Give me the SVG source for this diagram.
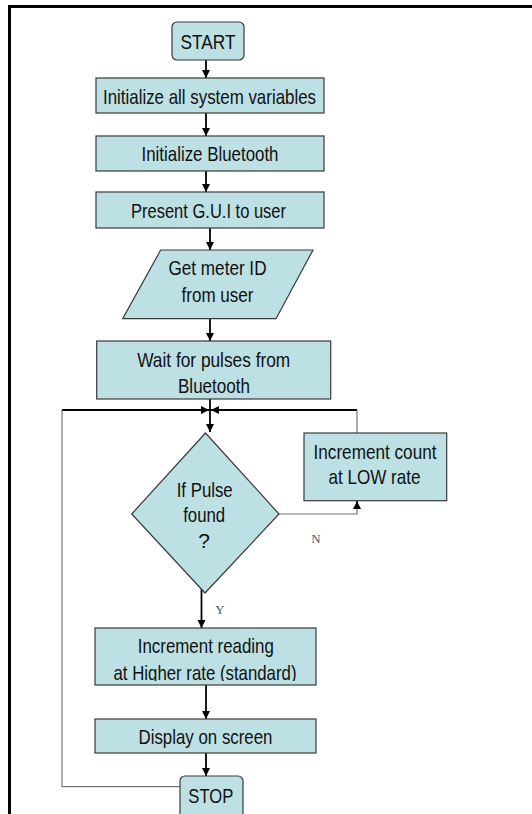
<svg xmlns="http://www.w3.org/2000/svg" width="532" height="814" viewBox="0 0 532 814">
<defs>
<style>
.n{fill:#bce0e3;stroke:#3a3a3a;stroke-width:1.2}
.t{font-family:"Liberation Sans",Arial,sans-serif;font-size:21px;fill:#111;text-anchor:middle}
.c{fill:none;stroke:#000;stroke-width:1.8}
.g{fill:none;stroke:#777;stroke-width:1.2}
.l{font-family:"Liberation Serif","Times New Roman",serif;font-size:13px;fill:#555;text-anchor:middle}
</style>
<marker id="a" markerUnits="userSpaceOnUse" markerWidth="8" markerHeight="10" refX="8" refY="4" orient="auto">
<path d="M0,0 L8,4 L0,8 Z" fill="#000"/>
</marker>
<clipPath id="clipH"><rect x="95" y="628" width="221" height="53"/></clipPath>
</defs>
<rect width="532" height="814" fill="#fff"/>
<path d="M9.5,814 V6.5 H532" fill="none" stroke="#000" stroke-width="3"/>

<g id="connectors">
<line class="c" x1="206" y1="60" x2="206" y2="78" marker-end="url(#a)"/>
<line class="c" x1="206" y1="113" x2="206" y2="136" marker-end="url(#a)"/>
<line class="c" x1="206" y1="171" x2="206" y2="192" marker-end="url(#a)"/>
<line class="c" x1="210" y1="228" x2="210" y2="250" marker-end="url(#a)"/>
<line class="c" x1="210" y1="319" x2="210" y2="341" marker-end="url(#a)"/>
<line class="c" x1="210" y1="399" x2="210" y2="410"/>
<line class="c" x1="62" y1="410" x2="209" y2="410" marker-end="url(#a)"/>
<line class="c" x1="357" y1="410" x2="211" y2="410" marker-end="url(#a)"/>
<line class="c" x1="210" y1="410" x2="210" y2="432" marker-end="url(#a)"/>
<path class="g" d="M279,514 H357 V501"/>
<line class="c" x1="357" y1="509" x2="357" y2="501" marker-end="url(#a)"/>
<path class="g" d="M357,433 V410"/>
<line class="c" x1="201.5" y1="582" x2="201.5" y2="628" marker-end="url(#a)"/>
<line class="c" x1="206" y1="685" x2="206" y2="719" marker-end="url(#a)"/>
<line class="c" x1="206" y1="753" x2="206" y2="776" marker-end="url(#a)"/>
<path class="g" d="M180,786.7 H62 V410"/>
<text class="l" x="316" y="542.5">N</text>
<text class="l" x="220" y="613.5">Y</text>
</g>

<g id="start">
<rect class="n" x="172" y="22" width="72" height="38" rx="5"/>
<text class="t" x="208" y="48.5" textLength="55" lengthAdjust="spacingAndGlyphs">START</text>
</g>
<g id="init-vars">
<rect class="n" x="96" y="78" width="228" height="35"/>
<text class="t" x="209.5" y="104" textLength="213" lengthAdjust="spacingAndGlyphs">Initialize all system variables</text>
</g>
<g id="init-bt">
<rect class="n" x="96" y="136" width="228" height="35"/>
<text class="t" x="210" y="161" textLength="137" lengthAdjust="spacingAndGlyphs">Initialize Bluetooth</text>
</g>
<g id="gui">
<rect class="n" x="96" y="192" width="228" height="36"/>
<text class="t" x="208.5" y="217.5" textLength="155" lengthAdjust="spacingAndGlyphs">Present G.U.I to user</text>
</g>
<g id="meter-id">
<polygon class="n" points="160.7,250 313,250 276,318.7 122.7,318.7"/>
<text class="t" x="217.5" y="275" textLength="98" lengthAdjust="spacingAndGlyphs">Get meter ID</text>
<text class="t" x="217.5" y="301.5" textLength="72" lengthAdjust="spacingAndGlyphs">from user</text>
</g>
<g id="wait">
<rect class="n" x="96.7" y="341" width="234" height="58"/>
<text class="t" x="213.7" y="366.5" textLength="153" lengthAdjust="spacingAndGlyphs">Wait for pulses from</text>
<text class="t" x="214" y="392.5" textLength="72" lengthAdjust="spacingAndGlyphs">Bluetooth</text>
</g>
<g id="decision">
<polygon class="n" points="205.5,433 279,514 205,593 131.7,514"/>
<text class="t" x="204.7" y="496.5" textLength="56" lengthAdjust="spacingAndGlyphs">If Pulse</text>
<text class="t" x="204.2" y="521.5" textLength="42" lengthAdjust="spacingAndGlyphs">found</text>
<text class="t" x="204" y="548">?</text>
</g>
<g id="low-rate">
<rect class="n" x="304" y="433" width="142.7" height="67.7"/>
<text class="t" x="375" y="459.3" textLength="123" lengthAdjust="spacingAndGlyphs">Increment count</text>
<text class="t" x="374.5" y="484" textLength="92" lengthAdjust="spacingAndGlyphs">at LOW rate</text>
</g>
<g id="high-rate">
<rect class="n" x="95" y="628" width="221" height="57"/>
<text class="t" x="205.8" y="653.3" textLength="136" lengthAdjust="spacingAndGlyphs">Increment reading</text>
<text class="t" x="205" y="679.5" textLength="183" lengthAdjust="spacingAndGlyphs" clip-path="url(#clipH)">at Higher rate (standard)</text>
</g>
<g id="display">
<rect class="n" x="95" y="719" width="221" height="34"/>
<text class="t" x="205.5" y="744" textLength="134" lengthAdjust="spacingAndGlyphs">Display on screen</text>
</g>
<g id="stop">
<rect class="n" x="180" y="776" width="63" height="48" rx="5"/>
<text class="t" x="210.8" y="802.7" textLength="45" lengthAdjust="spacingAndGlyphs">STOP</text>
</g>
</svg>
